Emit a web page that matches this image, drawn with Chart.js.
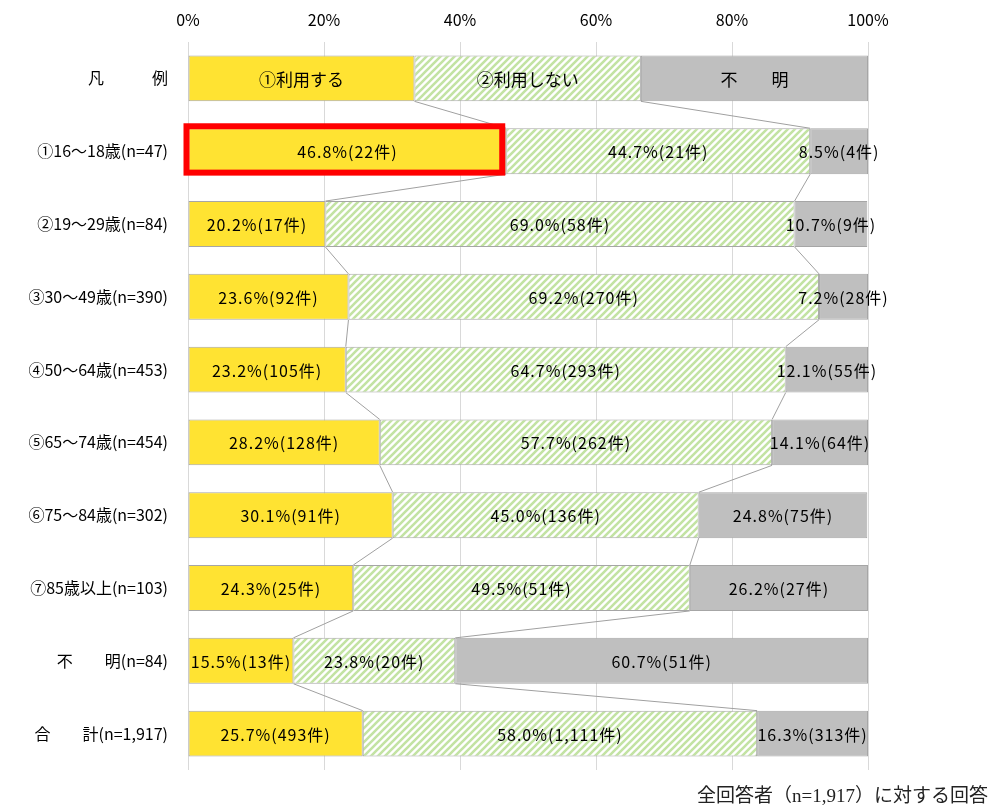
<!DOCTYPE html>
<html lang="ja">
<head>
<meta charset="utf-8">
<script src="https://cdn.jsdelivr.net/npm/chart.js@4.4.1/dist/chart.umd.min.js"></script>
<style>
  body { margin: 0; background: #fff; }
  #wrap { position: relative; width: 996px; height: 810px; }
  #note {
    position: absolute; right: 8px; top: 780px;
    font-family: "Liberation Serif", "Noto Sans CJK JP", serif;
    font-size: 19px; color: #222; white-space: nowrap;
  }
</style>
</head>
<body>
<div id="wrap">
  <canvas id="chart" width="996" height="810"></canvas>
  <div id="note">全回答者（n=1,917）に対する回答</div>
</div>
<script>
const categories = [
  "凡　　　例",
  "①16～18歳(n=47)",
  "②19～29歳(n=84)",
  "③30～49歳(n=390)",
  "④50～64歳(n=453)",
  "⑤65～74歳(n=454)",
  "⑥75～84歳(n=302)",
  "⑦85歳以上(n=103)",
  "不　　明(n=84)",
  "合　　計(n=1,917)",
];
const seriesNames = ["①利用する", "②利用しない", "不　　明"];

// percentages (first row is the legend row, equal thirds)
const usePct = [33.3, 46.8, 20.2, 23.6, 23.2, 28.2, 30.1, 24.3, 15.5, 25.7];
const notUsePct = [33.3, 44.7, 69.0, 69.2, 64.7, 57.7, 45.0, 49.5, 23.8, 58.0];
const unknownPct = [33.4, 8.5, 10.7, 7.2, 12.1, 14.1, 24.8, 26.2, 60.7, 16.3];

// counts (件)
const useCount = [null, 22, 17, 92, 105, 128, 91, 25, 13, 493];
const notUseCount = [null, 21, 58, 270, 293, 262, 136, 51, 20, 1111];
const unknownCount = [null, 4, 9, 28, 55, 64, 75, 27, 51, 313];

const tickLabels = ["0%", "20%", "40%", "60%", "80%", "100%"];

const colors = {
  yellow: "#ffe332",
  gray: "#bfbfbf",
  stripe: "#c3e3a3",
  border: "#a6a6a6",
  grid: "#d9d9d9",
  seriesLine: "#a0a0a0",
  highlight: "#ff0000",
};

// hatch pattern for "利用しない"
const makeHatch = () => {
  const s = 7;
  const c = document.createElement("canvas");
  c.width = s;
  c.height = s;
  const g = c.getContext("2d");
  g.fillStyle = "#ffffff";
  g.fillRect(0, 0, s, s);
  g.strokeStyle = colors.stripe;
  g.lineWidth = 2.6;
  g.beginPath();
  g.moveTo(0, s); g.lineTo(s, 0);
  g.moveTo(-1, 1); g.lineTo(1, -1);
  g.moveTo(s - 1, s + 1); g.lineTo(s + 1, s - 1);
  g.stroke();
  return g.createPattern(c, "repeat");
};

const fmt = (n) => n.toLocaleString("en-US");
const counts = [useCount, notUseCount, unknownCount];

// Excel-style series lines between consecutive bars
const seriesLinesPlugin = {
  id: "seriesLines",
  afterDatasetsDraw(chart) {
    const ctx = chart.ctx;
    ctx.save();
    ctx.strokeStyle = colors.seriesLine;
    ctx.lineWidth = 1;
    [0, 1].forEach((d) => {
      const bars = chart.getDatasetMeta(d).data;
      for (let i = 0; i < bars.length - 1; i++) {
        const a = bars[i];
        const b = bars[i + 1];
        ctx.beginPath();
        ctx.moveTo(a.x, a.y + a.height / 2);
        ctx.lineTo(b.x, b.y - b.height / 2);
        ctx.stroke();
      }
    });
    // red highlight around ①16～18歳 "利用する"
    const h = chart.getDatasetMeta(0).data[1];
    ctx.strokeStyle = colors.highlight;
    ctx.lineWidth = 6;
    const top = h.y - h.height / 2;
    const bottom = h.y + h.height / 2;
    ctx.strokeRect(h.base - 2, top - 2, h.x - 4 - (h.base - 2), bottom - 1.5 - (top - 2));
    ctx.restore();
  },
};

const labelsPlugin = {
  id: "barLabels",
  afterDraw(chart) {
    const ctx = chart.ctx;
    ctx.save();
    ctx.fillStyle = "#000";
    ctx.textAlign = "center";
    ctx.textBaseline = "middle";
    chart.data.datasets.forEach((ds, d) => {
      chart.getDatasetMeta(d).data.forEach((bar, i) => {
        let text;
        if (i === 0) {
          ctx.font = "17px 'Noto Sans CJK JP', sans-serif";
          ctx.letterSpacing = "0px";
          text = seriesNames[d];
        } else {
          ctx.font = "16px 'Noto Sans CJK JP', sans-serif";
          ctx.letterSpacing = "1px";
          text = `${ds.data[i].toFixed(1)}%(${fmt(counts[d][i])}件)`;
        }
        ctx.fillText(text, (bar.base + bar.x) / 2, bar.y + 1);
      });
    });
    ctx.restore();
  },
};

Chart.defaults.font.family = "'Noto Sans CJK JP', sans-serif";
Chart.defaults.font.size = 15;
Chart.defaults.color = "#000";

const dsCommon = {
  borderColor: colors.border,
  borderWidth: 1,
  borderSkipped: false,
  barPercentage: 0.63,
  categoryPercentage: 1,
};

new Chart(document.getElementById("chart"), {
  type: "bar",
  data: {
    labels: categories,
    datasets: [
      { ...dsCommon, label: seriesNames[0], data: usePct, backgroundColor: colors.yellow },
      { ...dsCommon, label: seriesNames[1], data: notUsePct, backgroundColor: makeHatch() },
      { ...dsCommon, label: seriesNames[2], data: unknownPct, backgroundColor: colors.gray },
    ],
  },
  options: {
    indexAxis: "y",
    responsive: false,
    devicePixelRatio: 1,
    animation: false,
    layout: { padding: { top: 0, right: 128, bottom: 40, left: 0 } },
    scales: {
      x: {
        position: "top",
        stacked: true,
        min: 0,
        max: 100,
        afterFit: (scale) => { scale.height = 42; },
        ticks: {
          stepSize: 20,
          padding: 12,
          font: { size: 16 },
          callback: (v, i) => tickLabels[i],
        },
        grid: { color: colors.grid, drawTicks: false },
        border: { display: false },
      },
      y: {
        stacked: true,
        afterFit: (scale) => { scale.width = 188; },
        ticks: { padding: 12, font: { size: 16 } },
        grid: { display: false },
        border: { display: false },
      },
    },
    plugins: {
      legend: { display: false },
      tooltip: { enabled: false },
    },
  },
  plugins: [seriesLinesPlugin, labelsPlugin],
});
</script>
</body>
</html>
